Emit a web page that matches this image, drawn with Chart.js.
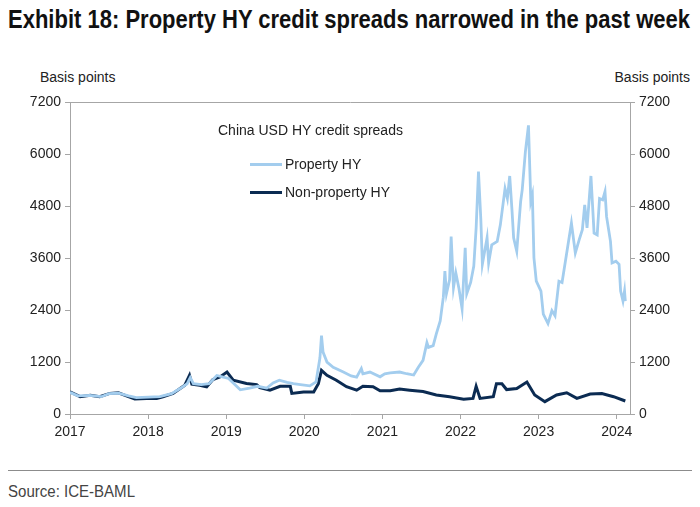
<!DOCTYPE html>
<html>
<head>
<meta charset="utf-8">
<script src="https://cdn.jsdelivr.net/npm/chart.js@4.4.1/dist/chart.umd.min.js"></script>
<style>
  body { margin: 0; width: 700px; height: 507px; background: #fff; position: relative; overflow: hidden; font-family: "Liberation Sans", Arial, sans-serif; }
  #title { position: absolute; left: 8px; top: 5px; font-family: "Liberation Sans", Arial, sans-serif; font-weight: bold; font-size: 25px; color: #111; white-space: nowrap; transform-origin: 0 0; }
  .unit { position: absolute; top: 69px; font-size: 14px; color: #222; }
  #chartBox { position: absolute; left: 0; top: 90px; width: 700px; height: 360px; }
  #legend { position: absolute; left: 218px; top: 122px; font-size: 14px; color: #222; }
  #legend .head { margin-bottom: 12px; }
  #legend .item { display: flex; align-items: center; margin-left: 32px; height: 28px; }
  #legend .swatch { width: 32px; height: 3px; margin-right: 3px; }
  #rule { position: absolute; left: 8px; top: 470px; width: 684px; height: 1px; background: #8c8c8c; }
  #source { position: absolute; left: 8px; top: 483px; font-family: "Liberation Sans", Arial, sans-serif; font-size: 16px; color: #444; transform-origin: 0 0; white-space: nowrap; }
</style>
</head>
<body>
<div id="title">Exhibit 18: Property HY credit spreads narrowed in the past week</div>
<div class="unit" style="left:40px">Basis points</div>
<div class="unit" style="right:10px">Basis points</div>
<div id="chartBox"><canvas id="myChart"></canvas></div>
<div id="legend"></div>
<div id="rule"></div>
<div id="source">Source: ICE-BAML</div>
<script>
let legendTitle = "China USD HY credit spreads";
let seriesNames = ["Property HY", "Non-property HY"];
let seriesColors = ["#a3cdee", "#0b2b52"];
let yTicks = [0, 1200, 2400, 3600, 4800, 6000, 7200];
let yearTicks = [2017, 2018, 2019, 2020, 2021, 2022, 2023, 2024];

// dates are decimal years
let propertyDates = [
  2017.00, 2017.10, 2017.25, 2017.40, 2017.50, 2017.62, 2017.75, 2017.85, 2018.00, 2018.15,
  2018.30, 2018.42, 2018.50, 2018.54, 2018.58, 2018.68, 2018.78, 2018.88, 2018.95, 2019.03,
  2019.10, 2019.18, 2019.30, 2019.40, 2019.52, 2019.60, 2019.68, 2019.78, 2019.86, 2019.95,
  2020.07, 2020.15, 2020.20, 2020.22, 2020.24, 2020.29, 2020.37, 2020.50, 2020.60, 2020.67,
  2020.73, 2020.75, 2020.84, 2020.97, 2021.03, 2021.10, 2021.22, 2021.31, 2021.40, 2021.46,
  2021.52, 2021.57, 2021.59, 2021.65, 2021.69, 2021.74, 2021.78, 2021.80, 2021.82, 2021.86,
  2021.88, 2021.91, 2021.94, 2021.98, 2022.02, 2022.06, 2022.08, 2022.13, 2022.17, 2022.20,
  2022.23, 2022.26, 2022.28, 2022.34, 2022.36, 2022.40, 2022.47, 2022.51, 2022.57, 2022.60,
  2022.63, 2022.66, 2022.68, 2022.72, 2022.77, 2022.79, 2022.83, 2022.87, 2022.90, 2022.92,
  2022.94, 2022.97, 2023.03, 2023.06, 2023.12, 2023.17, 2023.21, 2023.26, 2023.30, 2023.35,
  2023.42, 2023.47, 2023.52, 2023.56, 2023.59, 2023.62, 2023.67, 2023.71, 2023.75, 2023.78,
  2023.82, 2023.85, 2023.87, 2023.92, 2023.94, 2023.99, 2024.03, 2024.05, 2024.08, 2024.10,
  2024.11
];
let propertyValues = [
  500, 420, 430, 400, 470, 480, 420, 380, 390, 400,
  470, 600, 700, 840, 700, 680, 700, 890, 860, 820,
  700, 560, 600, 640, 600, 720, 780, 730, 700, 680,
  650, 740, 1300, 1810, 1430, 1200, 1080, 970, 880, 850,
  1050, 930, 970, 860, 930, 950, 970, 930, 900, 1080,
  1240, 1650, 1540, 1580, 1850, 2150, 2700, 3300, 2780, 3100,
  4100, 2920, 3260, 2900, 2430, 3840, 2780, 3040, 3420, 4300,
  5600, 4500, 3460, 4070, 3490, 3910, 3990, 4370, 5210, 4980,
  5500, 4680, 4070, 3760, 4910, 5180, 6050, 6670, 4910, 5060,
  3610, 3070, 2840, 2310, 2090, 2390, 2270, 3070, 3040, 3610,
  4410, 3720, 4030, 4260, 4830, 4300, 5500, 4180, 4140, 4980,
  4950, 5140, 4560, 3990, 3490, 3530, 3460, 2840, 2610, 2840,
  2610
];

let nonPropDates = [
  2017.00, 2017.13, 2017.26, 2017.38, 2017.51, 2017.62, 2017.73, 2017.83, 2017.98, 2018.11,
  2018.19, 2018.32, 2018.41, 2018.47, 2018.53, 2018.56, 2018.66, 2018.75, 2018.83, 2018.92,
  2019.01, 2019.09, 2019.26, 2019.39, 2019.43, 2019.56, 2019.69, 2019.82, 2019.84, 2019.99,
  2020.12, 2020.18, 2020.22, 2020.29, 2020.41, 2020.54, 2020.67, 2020.75, 2020.88, 2020.97,
  2021.10, 2021.22, 2021.35, 2021.52, 2021.69, 2021.86, 2022.04, 2022.16, 2022.20, 2022.25,
  2022.42, 2022.46, 2022.53, 2022.59, 2022.72, 2022.85, 2022.95, 2023.08, 2023.23, 2023.36,
  2023.49, 2023.66, 2023.81, 2023.96, 2024.11
];
let nonPropValues = [
  510, 400, 435, 400, 475, 490, 415, 345, 360, 360,
  400, 475, 590, 665, 895, 690, 665, 630, 795, 855,
  970, 780, 705, 680, 610, 550, 640, 640, 475, 510,
  510, 700, 1010, 895, 780, 630, 550, 640, 630, 535,
  535, 575, 550, 520, 440, 400, 340, 360, 640, 360,
  400, 700, 700, 565, 590, 740, 440, 285, 440, 490,
  360, 460, 475, 400, 300
];

function toPoints(dates, values) {
  let pts = [];
  for (let i = 0; i < dates.length; i++) {
    pts.push({ x: dates[i], y: values[i] });
  }
  return pts;
}

// squeeze a text block to a target width (no narrow font installed)
function fitWidth(el, target) {
  let w = el.getBoundingClientRect().width;
  el.style.transform = `scaleX(${target / w})`;
}
fitWidth(document.getElementById("title"), 682);
fitWidth(document.getElementById("source"), 127);

let axisGrey = "#a6a6a6";
let tickFont = { family: "'Liberation Sans', Arial, sans-serif", size: 14 };

function yAxis(position) {
  return {
    type: "linear",
    position: position,
    min: 0,
    max: 7200,
    afterBuildTicks: (scale) => { scale.ticks = yTicks.map((v) => ({ value: v })); },
    afterFit: (scale) => { scale.width = 70; },
    border: { color: axisGrey, width: 1 },
    grid: {
      drawOnChartArea: position === "left",
      color: (ctx) => (ctx.tick && ctx.tick.value === 7200 ? axisGrey : "rgba(0,0,0,0)"),
      tickColor: axisGrey,
      tickLength: 5,
    },
    ticks: { color: "#222", font: tickFont, padding: 4, callback: (v) => String(v) },
  };
}

new Chart(document.getElementById("myChart"), {
  type: "line",
  data: {
    datasets: [
      {
        label: seriesNames[0],
        data: toPoints(propertyDates, propertyValues),
        borderColor: seriesColors[0],
        borderWidth: 2.8,
        pointRadius: 0,
        tension: 0,
        yAxisID: "y",
      },
      {
        label: seriesNames[1],
        data: toPoints(nonPropDates, nonPropValues),
        borderColor: seriesColors[1],
        borderWidth: 3,
        pointRadius: 0,
        tension: 0,
        yAxisID: "y",
      },
    ],
  },
  options: {
    responsive: true,
    maintainAspectRatio: false,
    animation: false,
    layout: { padding: { top: 10, left: 0, right: 0, bottom: 0 } },
    plugins: { legend: { display: false }, tooltip: { enabled: false } },
    scales: {
      x: {
        type: "linear",
        min: 2017,
        max: 2024.17,
        afterBuildTicks: (scale) => { scale.ticks = yearTicks.map((v) => ({ value: v })); },
        afterFit: (scale) => { scale.height = 36; },
        border: { color: axisGrey, width: 1 },
        grid: { drawOnChartArea: false, tickColor: axisGrey, tickLength: 5 },
        ticks: { color: "#222", font: tickFont, padding: 5, maxRotation: 0, callback: (v) => String(v) },
      },
      y: yAxis("left"),
      y2: yAxis("right"),
    },
  },
});

let legendBox = document.getElementById("legend");
let head = document.createElement("div");
head.className = "head";
head.textContent = legendTitle;
legendBox.append(head);
for (let i = 0; i < seriesNames.length; i++) {
  let row = document.createElement("div");
  row.className = "item";
  let sw = document.createElement("span");
  sw.className = "swatch";
  sw.style.background = seriesColors[i];
  let txt = document.createElement("span");
  txt.textContent = seriesNames[i];
  row.append(sw, txt);
  legendBox.append(row);
}
</script>
</body>
</html>
